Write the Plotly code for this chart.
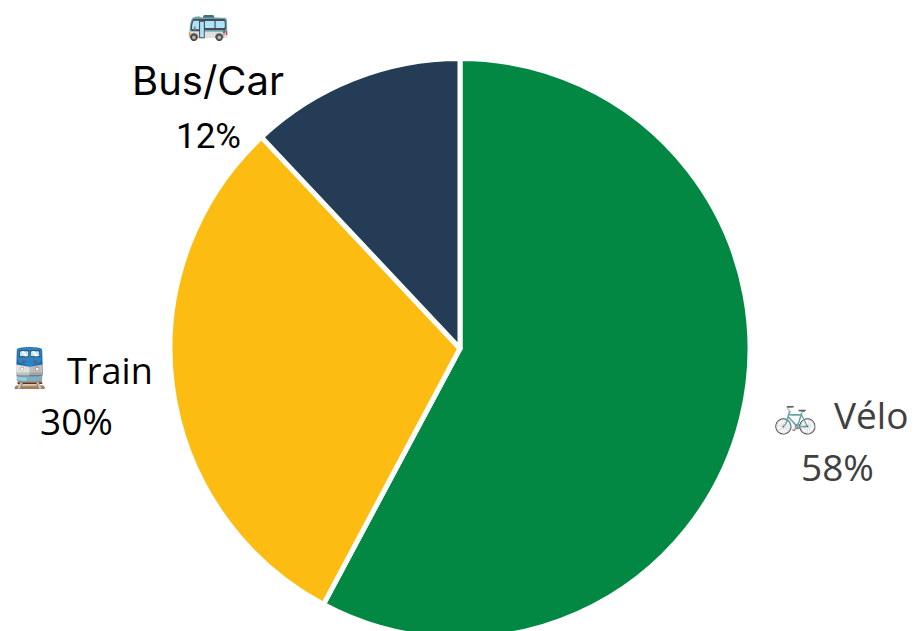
import plotly.graph_objects as go

categories = ["Vélo", "Train", "Bus/Car"]
values = [57.8, 30.2, 12]
pie_colors = ["#028843", "#FDBC11", "#253C56"]
percent_labels = ["58%", "30%", "12%"]
icons = ["🚲", "🚆", "🚌"]

W, H = 915, 640
cx, cy, r = 460, 348.5, 290


def X(px):
    return px / W


def Y(py):
    return 1 - py / H


fig = go.Figure(
    go.Pie(
        labels=categories,
        values=values,
        sort=False,
        direction="clockwise",
        rotation=0,
        textinfo="none",
        hoverinfo="label+percent",
        showlegend=False,
        marker=dict(colors=pie_colors, line=dict(color="white", width=5)),
        domain=dict(x=[X(cx - r), X(cx + r)], y=[max(0, Y(cy + r)), Y(cy - r)]),
    )
)


def note(text, px, py, family, size, color):
    fig.add_annotation(
        text=text, x=X(px), y=Y(py), xref="paper", yref="paper",
        showarrow=False, xanchor="center", yanchor="middle",
        font=dict(family=family, size=size, color=color),
    )


note(categories[0], 870.5, 414, "Open Sans", 37, "#404040")
note(percent_labels[0], 837, 466, "Open Sans", 37, "#404040")
note(icons[0], 795, 415, "Noto Color Emoji", 36, "#404040")
note(categories[1], 110, 370, "Open Sans", 36, "#000000")
note(percent_labels[1], 76, 420, "Open Sans", 37, "#000000")
note(icons[1], 29, 368, "Noto Color Emoji", 38, "#000000")
note(categories[2], 208, 80, "Inter", 40, "#000000")
note(percent_labels[2], 208, 136, "Roboto", 35, "#000000")
note(icons[2], 208, 22, "Noto Color Emoji", 34, "#000000")

fig.update_layout(
    width=W, height=H, margin=dict(l=0, r=0, t=0, b=0),
    paper_bgcolor="white", plot_bgcolor="white",
)
fig.write_html(
    "out.html",
    config=dict(displayModeBar=False),
    post_script="document.body.style.margin='0';document.body.style.overflow='hidden';document.documentElement.style.overflow='hidden';",
)
